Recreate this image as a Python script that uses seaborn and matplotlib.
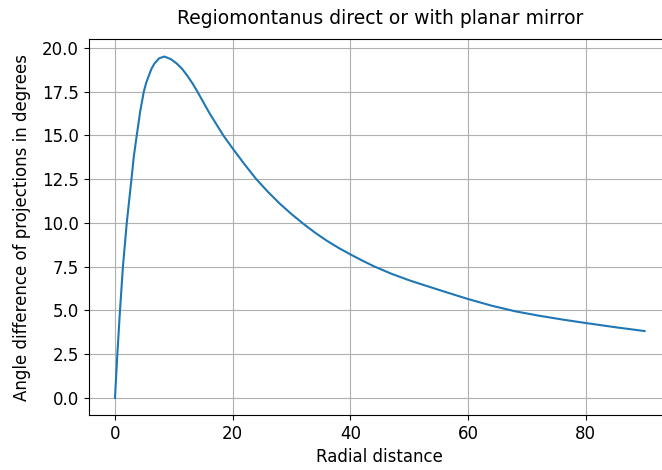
import matplotlib
matplotlib.use("Agg")
import matplotlib.pyplot as plt
import seaborn as sns
import pandas as pd

# values
radial = [0, 0.4, 0.85, 1.35, 2.0, 2.8, 3.2, 3.7, 4.3, 4.9, 5.3, 5.8, 6.2, 6.7,
          7.5, 8.4, 9.5, 10.5, 11.4, 12.3, 13.2, 14.0, 15.0, 16.0, 17.2, 18.4,
          20, 22, 24, 26, 28, 30, 32, 34, 36, 38, 40, 42, 44, 47, 50,
          52, 56, 60, 64, 68, 72, 76, 80, 85, 90]
angle_diff = [0, 2.5, 5.0, 7.5, 10.0, 12.5, 13.8, 15.0, 16.4, 17.5, 18.0, 18.45,
              18.8, 19.1, 19.4, 19.5, 19.35, 19.1, 18.8, 18.4, 17.95, 17.5,
              16.9, 16.3, 15.65, 15.0, 14.25, 13.35, 12.5, 11.77, 11.1, 10.5,
              9.95, 9.44, 8.98, 8.57, 8.2, 7.85, 7.52, 7.09, 6.72, 6.5, 6.07,
              5.65, 5.27, 4.95, 4.7, 4.48, 4.28, 4.04, 3.82]

df = pd.DataFrame({"Radial distance": radial, "angle": angle_diff})

fig = plt.figure(figsize=(6.62, 4.70), dpi=100)
# axes runs past the right edge, as in the cropped reference
ax = fig.add_axes([0.1337, 0.117, 0.88, 0.799])

sns.lineplot(data=df, x="Radial distance", y="angle", sort=False,
             color="#1f77b4", linewidth=1.5, ax=ax)

ax.grid(True)
ax.tick_params(labelsize=12)
ax.set_title("Regiomontanus direct or with planar mirror", fontsize=13.5, pad=11)
ax.set_xlabel("Radial distance", fontsize=12)
ax.set_ylabel("Angle difference of projections in degrees", fontsize=12, labelpad=8)

fig.savefig("out.png", dpi=100)
